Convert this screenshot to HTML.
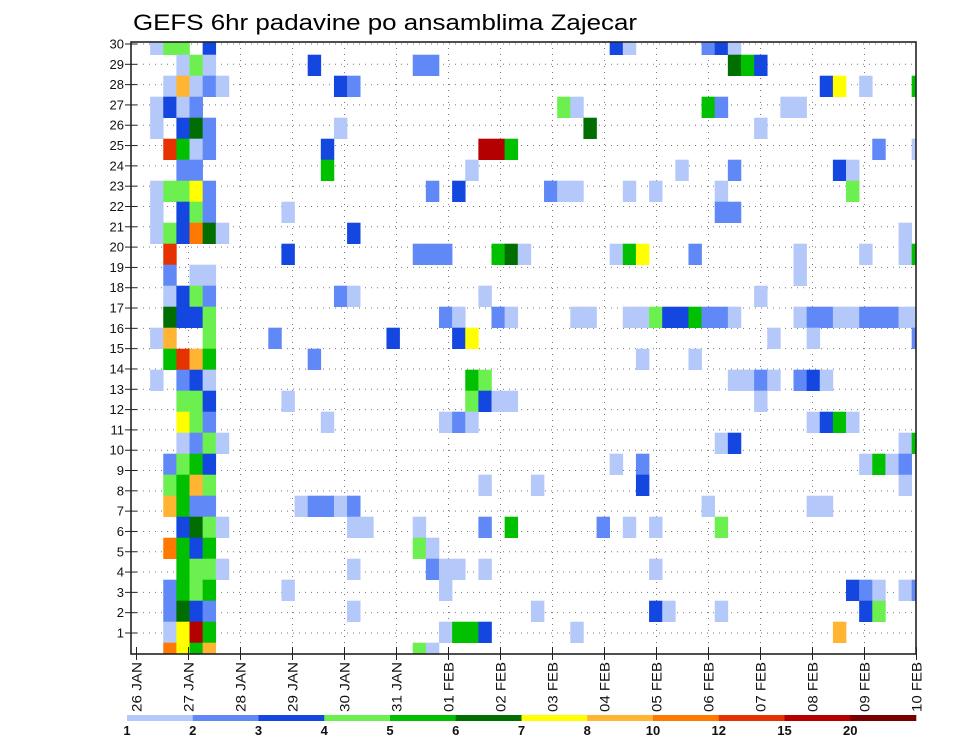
<!DOCTYPE html>
<html><head><meta charset="utf-8"><style>
html,body{margin:0;padding:0;background:#fff;}
svg{display:block;font-family:"Liberation Sans",sans-serif;}
</style></head><body>
<svg id="chart" width="960" height="742" viewBox="0 0 960 742" xmlns="http://www.w3.org/2000/svg">
<text x="133" y="30" font-size="22" textLength="504" lengthAdjust="spacingAndGlyphs">GEFS 6hr padavine po ansamblima Zajecar</text>
<defs><clipPath id="plotclip"><rect x="131" y="42" width="785" height="612"/></clipPath></defs>
<g id="grid"></g>
<g id="cells" clip-path="url(#plotclip)"></g>
<rect x="131" y="42" width="785" height="612" fill="none" stroke="#222" stroke-width="1.6"/>
<g id="yaxis"></g>
<g id="xaxis"></g>
<g id="cbar"></g>
</svg>
<script>
// ---- data ----
const dayLabels = ["26 JAN","27 JAN","28 JAN","29 JAN","30 JAN","31 JAN","01 FEB","02 FEB","03 FEB","04 FEB","05 FEB","06 FEB","07 FEB","08 FEB","09 FEB","10 FEB"];
const memberTicks = [1,2,3,4,5,6,7,8,9,10,11,12,13,14,15,16,17,18,19,20,21,22,23,24,25,26,27,28,29,30];
const levelBounds = [1,2,3,4,5,6,7,8,10,12,15,20,100];
const levelLabels = ["1","2","3","4","5","6","7","8","10","12","15","20"];
const levelColors = ["#b4c8fa","#6088f6","#1446e0","#6cf050","#00c000","#006e00","#ffff00","#ffb432","#ff7800","#e63200","#b40000","#780000"];
// cells written per member row: "step:code"; codes map to precip values
const codeValue = {L:1.5,M:2.5,B:3.5,G:4.5,N:5.5,D:6.5,Y:7.5,O:9,P:11,R:13,X:17};
const rowMembers = [30,29,28,27,26,25,24,23,22,21,20,19,18,17,16,15,14,13,12,11,10,9,8,7,6,5,4,3,2,1];
const rowCells = [
"1L 2G 3G 5B 36B 37L 43M 44B 45L",
"3L 4G 5L 13B 21M 22M 45D 46N 47B",
"2L 3O 4L 5M 6L 15B 16M 52B 53Y 55L 59N",
"1L 2B 3L 4M 32G 33L 43N 44M 49L 50L",
"1L 3B 4D 5M 15L 34D 47L",
"2R 3N 4L 5M 14B 26X 27X 28N 56M 59L",
"3M 4M 14N 25L 41L 45M 53B 54L",
"1L 2G 3G 4Y 5M 22M 24B 31M 32L 33L 37L 39L 44L 54G",
"1L 3B 4G 5M 11L 44M 45M",
"1L 2G 3B 4P 5D 6L 16B 58L",
"2R 11B 21M 22M 23M 27N 28D 29L 36L 37N 38Y 42M 50L 55L 58L 59N",
"2M 4L 5L 50L",
"2L 3B 4G 5M 15M 16L 26L 47L",
"2D 3B 4B 5G 23M 24L 27M 28L 33L 34L 37L 38L 39G 40B 41B 42N 43M 44M 45L 50L 51M 52M 53L 54L 55M 56M 57M 58L 59L",
"1L 2O 5G 10M 19B 24B 25Y 48L 51L 59M",
"2N 3R 4O 5N 13M 38L 42L",
"1L 3M 4B 5L 25N 26G 45L 46L 47M 48L 50M 51B 52L",
"3G 4G 5B 11L 25G 26B 27L 28L 47L",
"3Y 4G 5M 14L 23L 24M 25L 51L 52B 53N 54L",
"3L 4M 5G 6L 44L 45B 58L 59N",
"2M 3G 4N 5B 36L 38M 55L 56N 57L 58M",
"2G 3N 4O 5G 26L 30L 38B 58L",
"2O 3N 4M 5M 12L 13M 14M 15L 16M 43L 51L 52L",
"3B 4D 5G 6L 16L 17L 21L 26M 28N 35M 37L 39L 44G",
"2P 3N 4B 5N 21G 22L",
"3N 4G 5G 6L 16L 22M 23L 24L 26L 39L",
"2M 3N 4G 5N 11L 23L 54B 55M 56L 58L 59M",
"2M 3D 4B 5M 16L 30L 39B 40L 44L 55B 56G",
"2L 3Y 4X 5N 23L 24N 25N 26B 33L 53O",
"2P 3Y 4N 5O 21G 22L"
];
// ---- axes ----
const NS="http://www.w3.org/2000/svg";
const stepW = 13.13;
function xCell(step){ return 137 + step*stepW; }
function yCell(member){ return 33.7 + (30-member)*21.0; }
function yTick(member){ return 44 + (30-member)*20.31; }
function xDay(d){ return 136.5 + d*52.0; }
function colorOf(v){ for(let i=0;i<levelColors.length;i++){ if(v>=levelBounds[i] && v<levelBounds[i+1]) return levelColors[i]; } return null; }
function mk(tag, attrs, parent){ const e=document.createElementNS(NS,tag); for(const k in attrs) e.setAttribute(k,attrs[k]); parent.appendChild(e); return e; }

const grid=document.getElementById('grid');
for(let r=0;r<=30;r++){
  const y=yTick(r); if(y<43||y>653) continue;
  const l=mk('line',{x1:131,x2:916,y1:y,y2:y,stroke:'#777','stroke-width':1,'stroke-dasharray':'1 5'},grid);
  
  
}
for(let d=1;d<dayLabels.length-1;d++){
  const x=xDay(d);
  const l=mk('line',{x1:x,x2:x,y1:42,y2:654,stroke:'#777','stroke-width':1,'stroke-dasharray':'1 5'},grid);
  
  
}

const cells=document.getElementById('cells');
rowCells.forEach((row,ri)=>{
  const m=rowMembers[ri];
  row.split(' ').forEach(tok=>{
    const step=parseInt(tok); const v=codeValue[tok.replace(/[0-9]/g,'')];
    const c=colorOf(v); if(!c) return;
    const r=mk('rect',{x:xCell(step),y:yCell(m),width:stepW+0.3,height:21.3,fill:c},cells);
    
    
  });
});

const ya=document.getElementById('yaxis');
memberTicks.forEach(m=>{
  const y=yTick(m);
  const t=mk('line',{x1:125,x2:137,y1:y,y2:y,stroke:'#222','stroke-width':1},ya);
  
  
  const tx=mk('text',{x:124,y:y+4.5,'font-size':13,'text-anchor':'end',fill:'#111'},ya);
  tx.textContent=m;
  
  
});

const xa=document.getElementById('xaxis');
dayLabels.forEach((lab,d)=>{
  const x=xDay(d);
  const t=mk('line',{x1:x,x2:x,y1:647,y2:660,stroke:'#222','stroke-width':1},xa);
  
  
  const tx=mk('text',{transform:'translate('+(x+5)+',712) rotate(-90)','font-size':14,fill:'#111',textLength:50,lengthAdjust:'spacingAndGlyphs'},xa);
  tx.textContent=lab;
  
  
});

const cb=document.getElementById('cbar');
const segW=(916-127)/levelColors.length;
levelColors.forEach((c,i)=>{
  const r=mk('rect',{x:127+i*segW,y:715,width:segW+0.3,height:6,fill:c},cb);
  
  
});
levelLabels.forEach((lab,i)=>{
  const tx=mk('text',{x:127+i*segW,y:735,'font-size':13,'font-weight':'bold','text-anchor':'middle',fill:'#111'},cb);
  tx.textContent=lab;
  
  
});
</script>
</body></html>
